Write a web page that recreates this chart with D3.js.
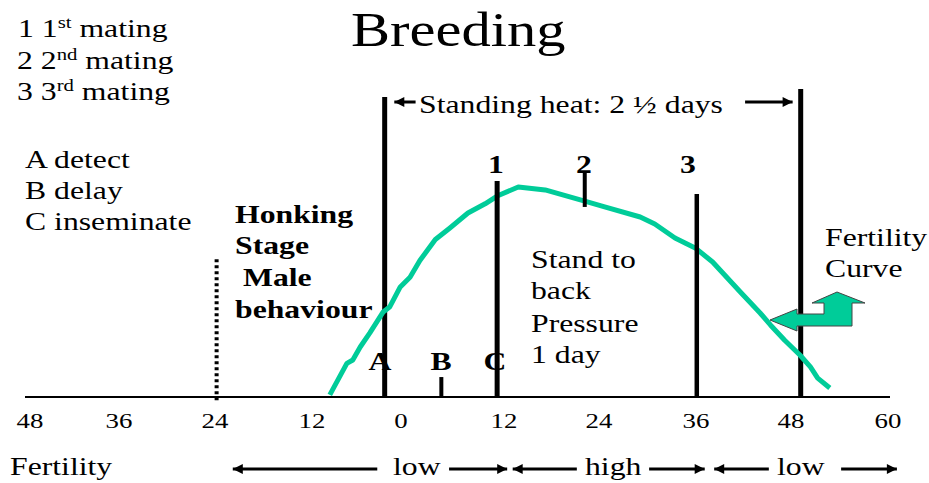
<!DOCTYPE html>
<html lang="en">
<head>
  <meta charset="UTF-8">
  <title>Breeding</title>
  <script src="https://d3js.org/d3.v7.min.js"></script>
  <style>
    body { margin: 0; background: #fff; }
    svg { display: block; }
    text { font-family: "Liberation Serif", serif; fill: #000; }
  </style>
</head>
<body>
  <svg></svg>
  <script>
  // x axis: hours around start of standing heat, labels are printed unsigned
  const tickHours = [-48, -36, -24, -12, 0, 12, 24, 36, 48, 60];
  const tickLabels = ["48", "36", "24", "12", "0", "12", "24", "36", "48", "60"];

  // fertility curve
  const curveHours = [-9.6, -7.3, -6.5, -5.5, -4.2, -2.4, -1.5, -0.1, 1.05, 2.2, 4.0, 5.7, 7.8, 9.8, 11.2, 13.8, 17.2, 22.2, 24.7, 29.1, 30.9, 33.4, 35.9, 38.1, 41.6, 44.1, 45.4, 47.2, 49.1, 50.4, 51.3, 52.8];
  const curveFertility = [1, 16, 17.6, 23.8, 30.5, 40.5, 43, 52.4, 57, 65, 75, 80.5, 87.6, 92, 95.7, 100, 98.6, 93.3, 90.5, 85.7, 82.4, 75.7, 71, 64.3, 50, 40, 34.3, 27, 20, 14.3, 9, 4.3];

  // vertical marks: hour, from, to (same units as the curve)
  const heatLines = [[-2.2, 0, 142.9], [49.2, 0, 146.7]];
  const matingLines = [[4.7, 0, 9.5, 4], [11.2, 0, 102.9, 5], [22.2, 90.5, 107, 4], [36.1, 0, 96.7, 4.5]];
  const dottedLine = [-23.8, -1.5, 65.7];

  // arrows along the fertility row and standing heat row: from hour, to hour
  const fertilityArrows = [[-3.2, -21.8], [5.6, 12.4], [21.2, 13.1], [30.2, 37.1], [45.2, 38.3], [54.2, 61.1]];
  const heatArrows = [[1.7, -0.9], [42.2, 48.2]];

  const width = 929, height = 483;
  const stretch = 1.22; // the original slide is stretched sideways
  const green = "#00cc99";

  const svg = d3.select("svg").attr("width", width).attr("height", height);

  const x = d3.scaleLinear()
    .domain(tickHours)
    .range([30, 119, 215, 312, 401, 504, 599, 696, 791, 888]);
  const y = d3.scaleLinear().domain([0, 100]).range([397, 187]);

  const defs = svg.append("defs");
  defs.append("marker")
    .attr("id", "head")
    .attr("viewBox", "0 0 10 10")
    .attr("refX", 10).attr("refY", 5)
    .attr("markerUnits", "userSpaceOnUse")
    .attr("markerWidth", 12).attr("markerHeight", 10)
    .attr("orient", "auto")
    .append("path").attr("d", "M0,0L10,5L0,10Z").attr("fill", "#000");

  function label(str, px, py, size, bold) {
    return svg.append("text")
      .attr("transform", `translate(${px},${py}) scale(${stretch},1)`)
      .attr("font-size", size)
      .attr("font-weight", bold ? "bold" : "normal")
      .text(str);
  }

  // baseline
  svg.append("line")
    .attr("x1", 25).attr("x2", 890)
    .attr("y1", y(0)).attr("y2", y(0))
    .attr("stroke", "#000").attr("stroke-width", 2);

  function vline(d, w) {
    svg.append("line")
      .attr("x1", x(d[0])).attr("x2", x(d[0]))
      .attr("y1", y(d[1])).attr("y2", y(d[2]))
      .attr("stroke", "#000").attr("stroke-width", w);
  }

  heatLines.forEach(d => vline(d, 5));

  svg.append("line")
    .attr("x1", x(dottedLine[0])).attr("x2", x(dottedLine[0]))
    .attr("y1", y(dottedLine[1])).attr("y2", y(dottedLine[2]))
    .attr("stroke", "#000").attr("stroke-width", 4)
    .attr("stroke-dasharray", "3 3");

  const line = d3.line().x(d => x(d[0])).y(d => y(d[1]));
  svg.append("path")
    .datum(curveHours.map((h, i) => [h, curveFertility[i]]))
    .attr("d", line)
    .attr("fill", "none")
    .attr("stroke", green)
    .attr("stroke-width", 5)
    .attr("stroke-linejoin", "round");

  matingLines.forEach(d => vline(d, d[3]));

  // arrows
  function arrows(list, py) {
    list.forEach(d => {
      svg.append("line")
        .attr("x1", x(d[0])).attr("x2", x(d[1]))
        .attr("y1", py).attr("y2", py)
        .attr("stroke", "#000").attr("stroke-width", 3)
        .attr("marker-end", "url(#head)");
    });
  }
  arrows(fertilityArrows, 469);
  arrows(heatArrows, 102);

  // green callout arrow
  svg.append("polygon")
    .attr("points", "770,320 797,309 797,314 824,314 824,303 812,303 837,292 865,303 852,303 852,326 797,326 797,331")
    .attr("fill", green)
    .attr("stroke", "#444")
    .attr("stroke-width", 1);

  // tick labels
  tickHours.forEach((h, i) => {
    label(tickLabels[i], x(h), 428, 22).attr("text-anchor", "middle");
  });

  label("Breeding", 351, 46, 48);

  // legend with superscripts
  [["1 1", "st", 18, 37], ["2 2", "nd", 17, 69], ["3 3", "rd", 17, 100]].forEach(d => {
    const t = label(d[0], d[2], d[3], 26);
    t.append("tspan").attr("font-size", 17).attr("dy", -9).text(d[1]);
    t.append("tspan").attr("dy", 9).text(" mating");
  });

  label("A detect", 25, 168, 26);
  label("B delay", 25, 199, 26);
  label("C inseminate", 25, 230, 26);

  label("Honking", 235, 223, 26, true);
  label("Stage", 235, 254, 26, true);
  label("Male", 243, 286, 26, true);
  label("behaviour", 235, 318, 26, true);

  label("Standing heat: 2 ½ days", 419, 113, 26);

  label("Stand to", 531, 268, 26);
  label("back", 531, 299, 26);
  label("Pressure", 531, 332, 26);
  label("1 day", 531, 363, 26);

  label("Fertility", 825, 246, 26);
  label("Curve", 825, 277, 26);

  label("1", 496, 173, 26, true).attr("text-anchor", "middle");
  label("2", 584, 173, 26, true).attr("text-anchor", "middle");
  label("3", 688, 173, 26, true).attr("text-anchor", "middle");

  label("A", 380, 370, 26, true).attr("text-anchor", "middle");
  label("B", 441, 370, 26, true).attr("text-anchor", "middle");
  label("C", 495, 370, 26, true).attr("text-anchor", "middle");

  label("Fertility", 10, 475, 26);
  label("low", 393, 475, 26);
  label("high", 585, 475, 26);
  label("low", 777, 475, 26);
  </script>
</body>
</html>
